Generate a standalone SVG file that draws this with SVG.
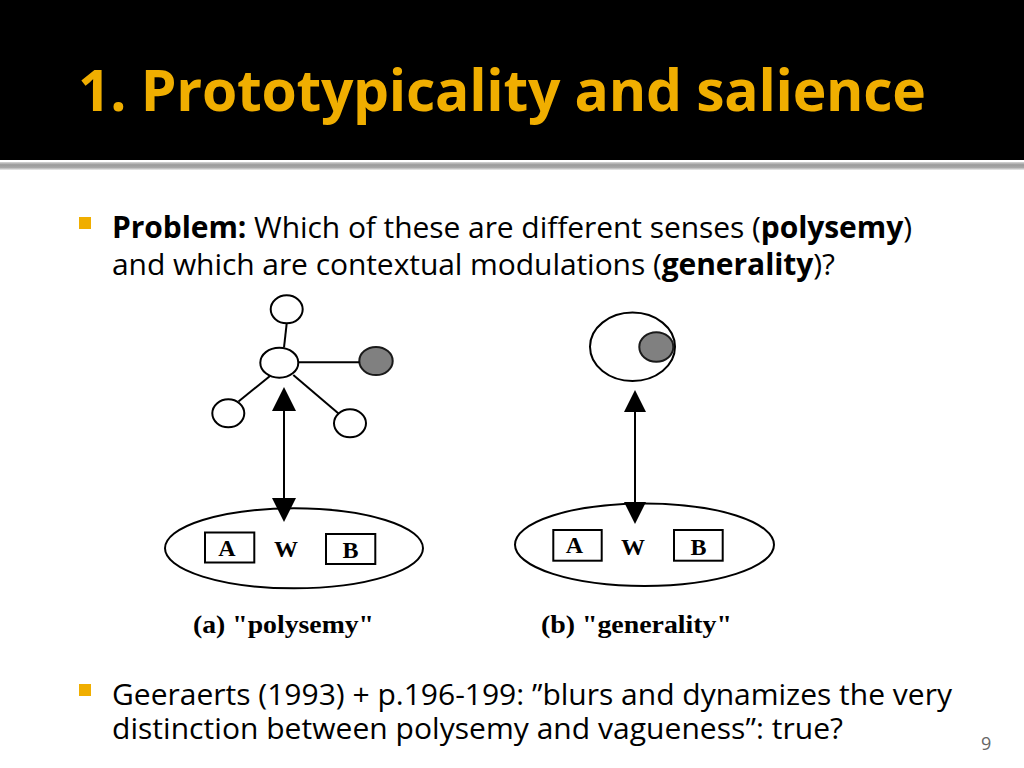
<svg xmlns="http://www.w3.org/2000/svg" width="1024" height="768" viewBox="0 0 1024 768">
<style>
.sans{font-family:"Open Sans","Noto Sans","DejaVu Sans",sans-serif}
.body{font-size:30px;fill:#000}
.b{font-weight:bold}
.ser{font-family:"Liberation Serif","Times New Roman",serif;font-weight:bold;fill:#000}
.ln{stroke:#000;stroke-width:2;fill:none}
.node{fill:#fff;stroke:#000;stroke-width:2}
.gray{fill:#808080;stroke:#1a1a1a;stroke-width:2}
.box{fill:#fff;stroke:#000;stroke-width:2}
.bullet{fill:#F0AE00}
</style>
<defs>
<linearGradient id="rule" x1="0" y1="0" x2="0" y2="1">
<stop offset="0" stop-color="#d8d8d8"/>
<stop offset="0.35" stop-color="#9a9a9a"/>
<stop offset="0.7" stop-color="#a8a8a8"/>
<stop offset="1" stop-color="#eeeeee"/>
</linearGradient>
<marker id="ah" viewBox="0 0 24 24" refX="22" refY="12" markerWidth="24" markerHeight="24" markerUnits="userSpaceOnUse" orient="auto-start-reverse">
<path d="M0,0 L24,12 L0,24 z" fill="#000"/>
</marker>
<marker id="ah2" viewBox="0 0 22 22" refX="20" refY="11" markerWidth="22" markerHeight="22" markerUnits="userSpaceOnUse" orient="auto-start-reverse">
<path d="M0,0 L22,11 L0,22 z" fill="#000"/>
</marker>
</defs>
<rect x="0" y="0" width="1024" height="768" fill="#fff"/>
<rect x="0" y="0" width="1024" height="160" fill="#000"/>
<rect x="0" y="162" width="1024" height="8" fill="url(#rule)"/>
<text class="sans b" x="78" y="111" font-size="57" fill="#F0AE00" textLength="848" lengthAdjust="spacing">1. Prototypicality and salience</text>

<rect class="bullet" x="79" y="217" width="12" height="12"/>
<text class="sans body" x="112" y="238" textLength="800" lengthAdjust="spacing"><tspan class="b">Problem:</tspan> Which of these are different senses (<tspan class="b">polysemy</tspan>)</text>
<text class="sans body" x="112" y="275" textLength="723" lengthAdjust="spacing">and which are contextual modulations (<tspan class="b">generality</tspan>)?</text>

<g id="a-top"><ellipse class="node" cx="286.7" cy="309.3" rx="16" ry="14"/></g>
<g id="a-center"><ellipse class="node" cx="279.3" cy="362.7" rx="19" ry="15"/></g>
<g id="a-gray"><ellipse class="gray" cx="376" cy="361" rx="16.7" ry="14"/></g>
<g id="a-left"><ellipse class="node" cx="228.3" cy="413.3" rx="16" ry="14"/></g>
<g id="a-right"><ellipse class="node" cx="350" cy="423.3" rx="16" ry="14"/></g>

<g id="a-word">
<ellipse class="node" cx="294" cy="548.3" rx="129" ry="40"/>
<rect class="box" x="205" y="532.5" width="49.3" height="30"/>
<text class="ser" x="227" y="555.5" font-size="24" text-anchor="middle">A</text>
<text class="ser" x="286" y="557" font-size="24" text-anchor="middle">W</text>
<rect class="box" x="326" y="534" width="49.3" height="30"/>
<text class="ser" x="350.5" y="558" font-size="24" text-anchor="middle">B</text>
</g>

<g id="b-sense">
<ellipse class="node" cx="632.5" cy="346.8" rx="42.5" ry="34.2"/>
<ellipse class="gray" cx="656.3" cy="347" rx="17" ry="14.7"/>
</g>

<g id="b-word">
<ellipse class="node" cx="644.5" cy="544.7" rx="129.5" ry="41.3"/>
<rect class="box" x="553.3" y="530" width="48.4" height="30.7"/>
<text class="ser" x="574.5" y="553" font-size="24" text-anchor="middle">A</text>
<text class="ser" x="633" y="554.5" font-size="24" text-anchor="middle">W</text>
<rect class="box" x="674" y="530" width="48.7" height="30.7"/>
<text class="ser" x="698.5" y="554.5" font-size="24" text-anchor="middle">B</text>
</g>

<g id="connectors">
<line class="ln" x1="286.7" y1="323.3" x2="284" y2="347.5"/>
<line class="ln" x1="298.5" y1="362.3" x2="359.5" y2="362.3"/>
<line class="ln" x1="270" y1="376" x2="238.5" y2="401.5"/>
<line class="ln" x1="293.3" y1="375" x2="338.5" y2="413.5"/>
<line class="ln" x1="284" y1="389" x2="284" y2="520" marker-start="url(#ah)" marker-end="url(#ah)"/>
<line class="ln" x1="635" y1="392" x2="635" y2="522" marker-start="url(#ah2)" marker-end="url(#ah2)"/>
</g>

<text class="ser" x="193" y="633" font-size="26" textLength="181" lengthAdjust="spacingAndGlyphs">(a) "polysemy"</text>
<text class="ser" x="541" y="633" font-size="26" textLength="191" lengthAdjust="spacingAndGlyphs">(b) "generality"</text>

<rect class="bullet" x="79" y="684" width="12" height="12"/>
<text class="sans body" x="112" y="705" textLength="840" lengthAdjust="spacing">Geeraerts (1993) + p.196-199: ”blurs and dynamizes the very</text>
<text class="sans body" x="112" y="739" textLength="731" lengthAdjust="spacing">distinction between polysemy and vagueness”: true?</text>

<text class="sans" x="981" y="750" font-size="18" fill="#666">9</text>
</svg>
